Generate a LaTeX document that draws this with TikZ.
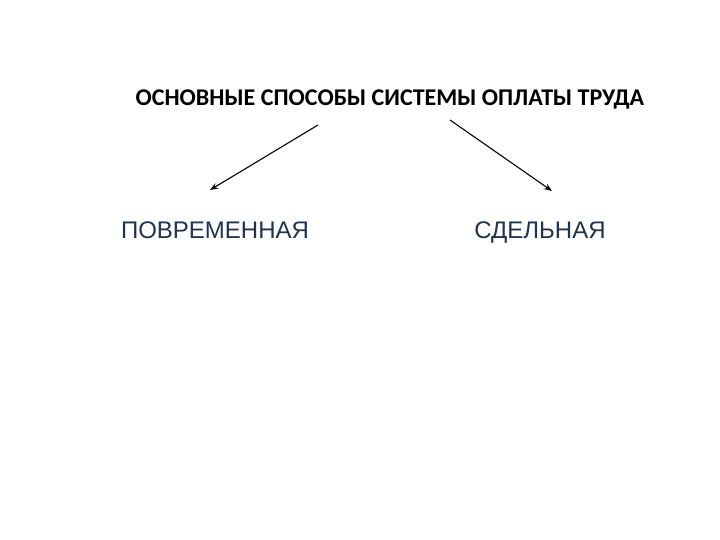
\documentclass[tikz,border=0pt]{standalone}
\usepackage{fontspec}
\setmainfont{Carlito}
\newfontfamily\labelfont{Liberation Sans}
\usepackage{xcolor}
\usetikzlibrary{arrows.meta}
\definecolor{kindblue}{RGB}{32,50,80}

\begin{document}
\begin{tikzpicture}[x=1pt, y=-1pt, thin,
    title/.style={font=\fontsize{24}{28}\selectfont\bfseries, text=black, anchor=base},
    kind/.style={font=\labelfont\fontsize{24}{28}\selectfont, text=kindblue, anchor=base},
    branch/.style={-{Stealth[length=8pt,width=6pt]}, line width=1.1pt}]
        \useasboundingbox (0,0) rectangle (720,540);
        % title and the two kinds of pay
        \node[title] (head) at (390,106) {ОСНОВНЫЕ СПОСОБЫ СИСТЕМЫ ОПЛАТЫ ТРУДА};
        \node[kind] (time) at (215,238) {ПОВРЕМЕННАЯ};
        \node[kind] (piece) at (540,238) {СДЕЛЬНАЯ};
        % arrow ends
        \coordinate (tl) at (318,125);
        \coordinate (tr) at (450,120);
        \coordinate (bl) at (210,190);
        \coordinate (br) at (552,191);
        \draw[branch] (tl) -- (bl);
        \draw[branch] (tr) -- (br);
    \end{tikzpicture}
\end{document}
